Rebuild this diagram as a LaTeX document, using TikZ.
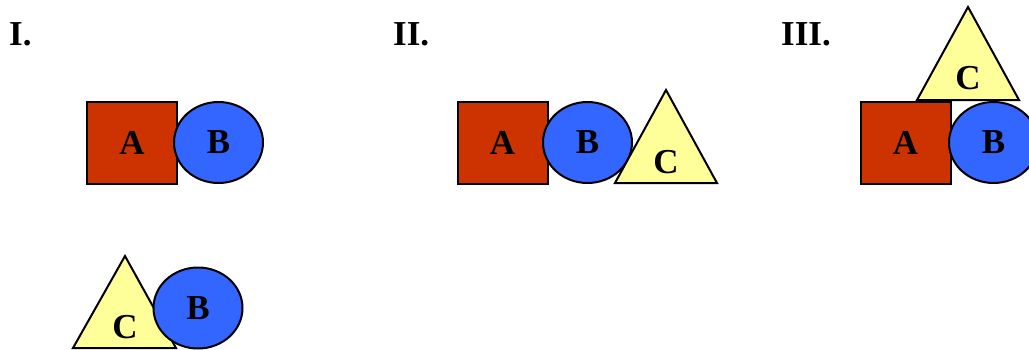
\documentclass[tikz,border=0pt]{standalone}
\usepackage{fontspec}
\setmainfont{Liberation Serif}
\usetikzlibrary{shapes.geometric}
\definecolor{sqred}{HTML}{CC3300}
\definecolor{cblue}{HTML}{3366FF}
\definecolor{tyellow}{HTML}{FFFF99}
\tikzset{
  lbl/.style={font=\fontsize{35}{40}\selectfont\bfseries, inner sep=0pt},
  sq/.style={draw=black, line width=2pt, fill=sqred, minimum width=90pt, minimum height=82pt, inner sep=0pt, lbl},
  circ/.style={ellipse, draw=black, line width=2pt, fill=cblue, minimum width=89pt, minimum height=81pt, inner sep=0pt, lbl},
  tri/.style={draw=black, line width=2pt, fill=tyellow, line join=miter},
  panel/.style={font=\fontsize{35}{40}\selectfont\bfseries, inner sep=0pt, anchor=base west}
}
\begin{document}
\begin{tikzpicture}[x=1pt,y=-1pt]
\useasboundingbox (0,0) rectangle (1029,349);
% Panel labels
\node[panel] (p1) at (9,45) {I.};
\node[panel] (p2) at (393,45) {II.};
\node[panel] (p3) at (781,45) {III.};
% Panel I
\node[sq] (a1) at (132,142.5) {A};
\node[circ] (b1) at (218.5,142.5) {B};
\draw[tri] (125,256) -- (176,348) -- (73,348) -- cycle;
\node[lbl] (c1) at (125,327) {C};
\node[circ] (b2) at (198,308) {B};
% Panel II
\node[sq] (a2) at (502.5,142.5) {A};
\node[circ] (b3) at (587.5,142.5) {B};
\draw[tri] (666,90) -- (717,183) -- (615,183) -- cycle;
\node[lbl] (c2) at (666,162) {C};
% Panel III
\draw[tri] (968,7) -- (1019,100) -- (917,100) -- cycle;
\node[lbl] (c3) at (968,78) {C};
\node[sq] (a3) at (905.5,142.5) {A};
\node[circ] (b4) at (993.5,142.5) {B};
\end{tikzpicture}
\end{document}
